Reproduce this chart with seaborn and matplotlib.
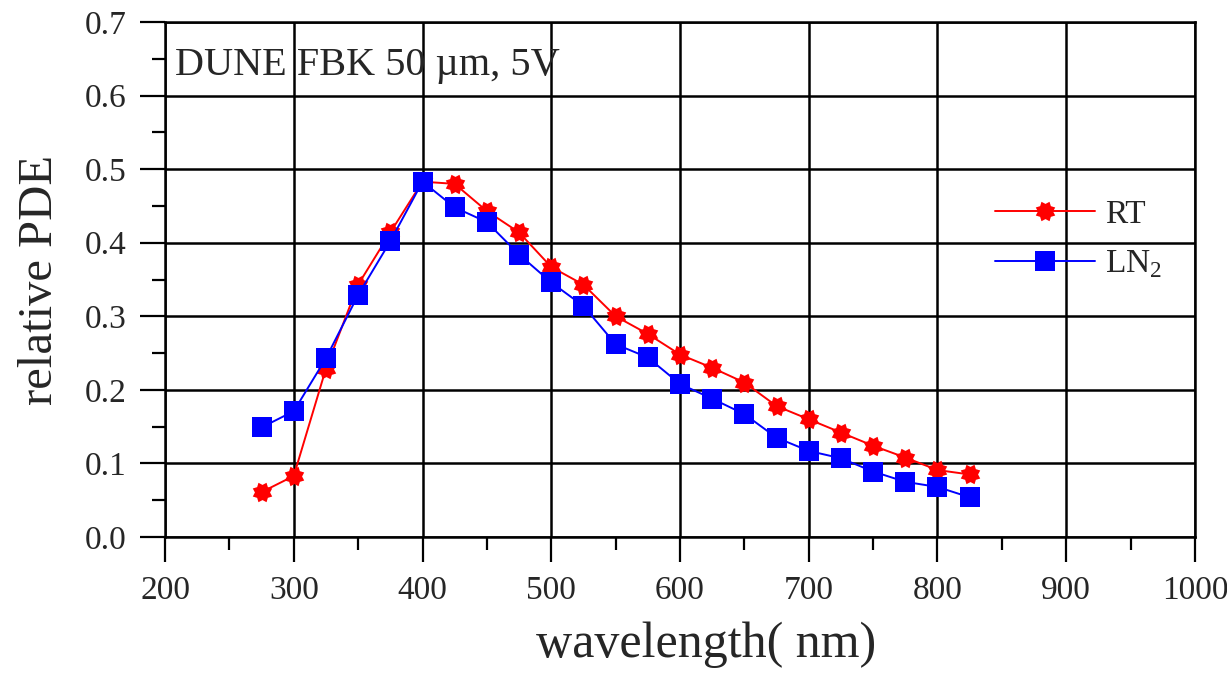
import numpy as np
import pandas as pd
import seaborn as sns
import matplotlib.pyplot as plt
from matplotlib.path import Path
from matplotlib.ticker import MultipleLocator, FormatStrFormatter

# Relative PDE vs wavelength
wavelength = [275, 300, 325, 350, 375, 400, 425, 450, 475, 500, 525, 550,
              575, 600, 625, 650, 675, 700, 725, 750, 775, 800, 825]
pde_rt = [0.061, 0.083, 0.229, 0.343, 0.414, 0.483, 0.480, 0.443, 0.414,
          0.367, 0.343, 0.300, 0.276, 0.248, 0.230, 0.210, 0.178, 0.160,
          0.142, 0.124, 0.108, 0.091, 0.085]
pde_ln2 = [0.149, 0.171, 0.243, 0.329, 0.402, 0.483, 0.448, 0.428, 0.384,
           0.346, 0.314, 0.262, 0.244, 0.208, 0.188, 0.167, 0.135, 0.117,
           0.107, 0.089, 0.075, 0.068, 0.054]

df = pd.DataFrame({"wavelength": wavelength, "RT": pde_rt, "LN2": pde_ln2})

sns.set_style("white")
plt.rcParams["font.family"] = ["Liberation Serif", "DejaVu Serif"]
plt.rcParams["mathtext.fontset"] = "custom"
plt.rcParams["mathtext.rm"] = "Liberation Serif"

# gear-like 8 point star marker (Origin style)
ang = np.linspace(0, 2 * np.pi, 17)[:-1] + np.pi / 8
rad = np.where(np.arange(16) % 2 == 0, 1.0, 0.72)
star = Path(np.column_stack([rad * np.cos(ang), rad * np.sin(ang)]))

fig, ax = plt.subplots(figsize=(12.27, 6.8), dpi=100)
fig.subplots_adjust(left=0.1345, right=0.9739, bottom=0.2103, top=0.9676)

sns.lineplot(data=df, x="wavelength", y="RT", color="red", marker=star,
             markersize=14, markeredgewidth=0, linewidth=1.4, label="RT", ax=ax)
sns.lineplot(data=df, x="wavelength", y="LN2", color="blue", marker="s",
             markersize=14, markeredgewidth=0, linewidth=1.4,
             label="LN$_2$", ax=ax)

ax.set_xlim(200, 1000)
ax.set_ylim(0, 0.7)
ax.xaxis.set_major_locator(MultipleLocator(100))
ax.xaxis.set_minor_locator(MultipleLocator(50))
ax.yaxis.set_major_locator(MultipleLocator(0.1))
ax.yaxis.set_minor_locator(MultipleLocator(0.05))
ax.yaxis.set_major_formatter(FormatStrFormatter("%.1f"))

ax.grid(True, which="major", color="black", linewidth=1.8)
ax.set_axisbelow(True)
for s in ax.spines.values():
    s.set_color("black")
    s.set_linewidth(1.8)

ax.tick_params(which="both", direction="out", color="black", width=1.6,
               bottom=True, left=True, top=False, right=False)
ax.tick_params(which="major", length=18, labelsize=24)
ax.tick_params(which="minor", length=9.5)
ax.tick_params(axis="x", which="major", pad=10)
ax.tick_params(axis="y", which="major", pad=10)

ax.set_xlabel("wavelength( nm)", fontsize=36)
ax.xaxis.set_label_coords(0.525, -0.165)
ax.set_ylabel("relative PDE", fontsize=35)
ax.yaxis.set_label_coords(-0.100, 0.5)

ax.text(0.01, 0.897, "DUNE FBK 50 µm, 5V", transform=ax.transAxes,
        fontsize=29, va="baseline", ha="left")

ax.legend(loc="center left", bbox_to_anchor=(0.806, 0.577), frameon=False,
          fontsize=24, handlelength=3.0, handletextpad=0.3, labelspacing=0.55,
          borderpad=0, borderaxespad=0)

plt.savefig("out.png", dpi=100)
